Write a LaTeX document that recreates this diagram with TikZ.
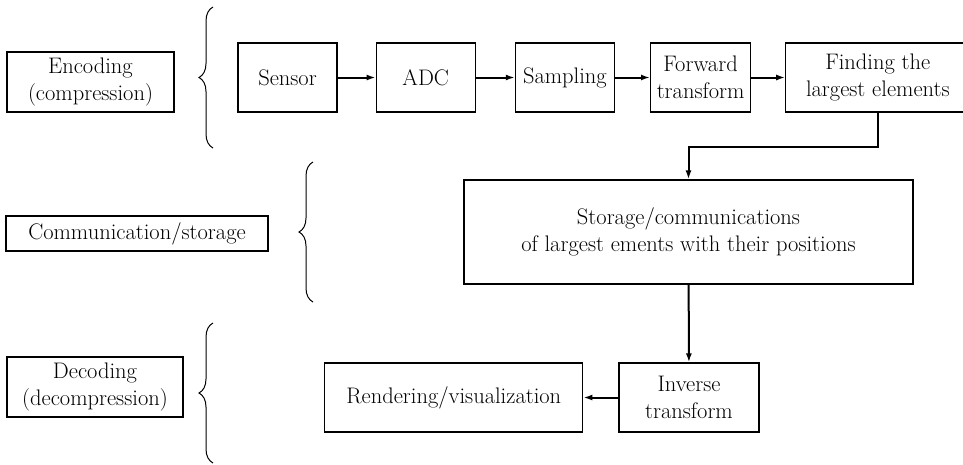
\documentclass[tikz,border=0pt]{standalone}
\usetikzlibrary{positioning,arrows.meta,decorations.pathreplacing}

\begin{document}
\begin{tikzpicture}[x=1pt, y=-1pt,
    main/.style = {draw, line width=1.2pt, align=center, inner sep=0pt,
      minimum width=99pt, minimum height=69pt},
    stage/.style = {draw, line width=1.2pt, align=center, inner sep=0pt},
    flow/.style = {-{Latex[length=9pt,width=6pt]}, line width=2pt},
    curly/.style = {decorate, decoration={brace, amplitude=14pt}, line width=1pt},
    font=\fontsize{22.5}{27}\selectfont, node distance=36pt]
  \useasboundingbox (0,0) rectangle (963,464);

  % stages on the left
  \node[stage, minimum width=167pt, minimum height=60pt] (enc) at (90.5,82) {Encoding\\(compression)};
  \node[stage, minimum width=262pt, minimum height=35pt] (com) at (137,233.5) {Communication/storage};
  \node[stage, minimum width=176pt, minimum height=60pt] (dec) at (95,387) {Decoding\\(decompression)};

  \draw[curly] (213,148) -- (213,7);
  \draw[curly] (313,302) -- (313,162);
  \draw[curly] (213,463) -- (213,323);

  % encoding chain
  \node[main] (sensor) at (287.5,77.5) {Sensor};
  \node[main] (adc) [right=38pt of sensor] {ADC};
  \node[main] (sampling) [right=39pt of adc] {Sampling};
  \node[main, minimum width=100pt] (forward) [right=35pt of sampling] {Forward\\transform};
  \node[main, minimum width=184pt] (finding) [right=34pt of forward] {Finding the\\largest elements};

  % storage and decoding
  \node[main, minimum width=449pt, minimum height=104pt] (storage) at (688.5,232)
    {Storage/communications\\of largest ements with their positions};
  \node[main, minimum width=140pt] (inverse) at (689,397.5) {Inverse\\transform};
  \node[main, minimum width=258pt] (render) [left=35pt of inverse] {Rendering/visualization};

  \draw[flow] (sensor) -- (adc);
  \draw[flow] (adc) -- (sampling);
  \draw[flow] (sampling) -- (forward);
  \draw[flow] (forward) -- (finding);
  \draw[flow] (finding.south) -- ++(0,34) -| (storage.north);
  \draw[flow] (storage) -- (inverse);
  \draw[flow] (inverse) -- (render);
\end{tikzpicture}
\end{document}
